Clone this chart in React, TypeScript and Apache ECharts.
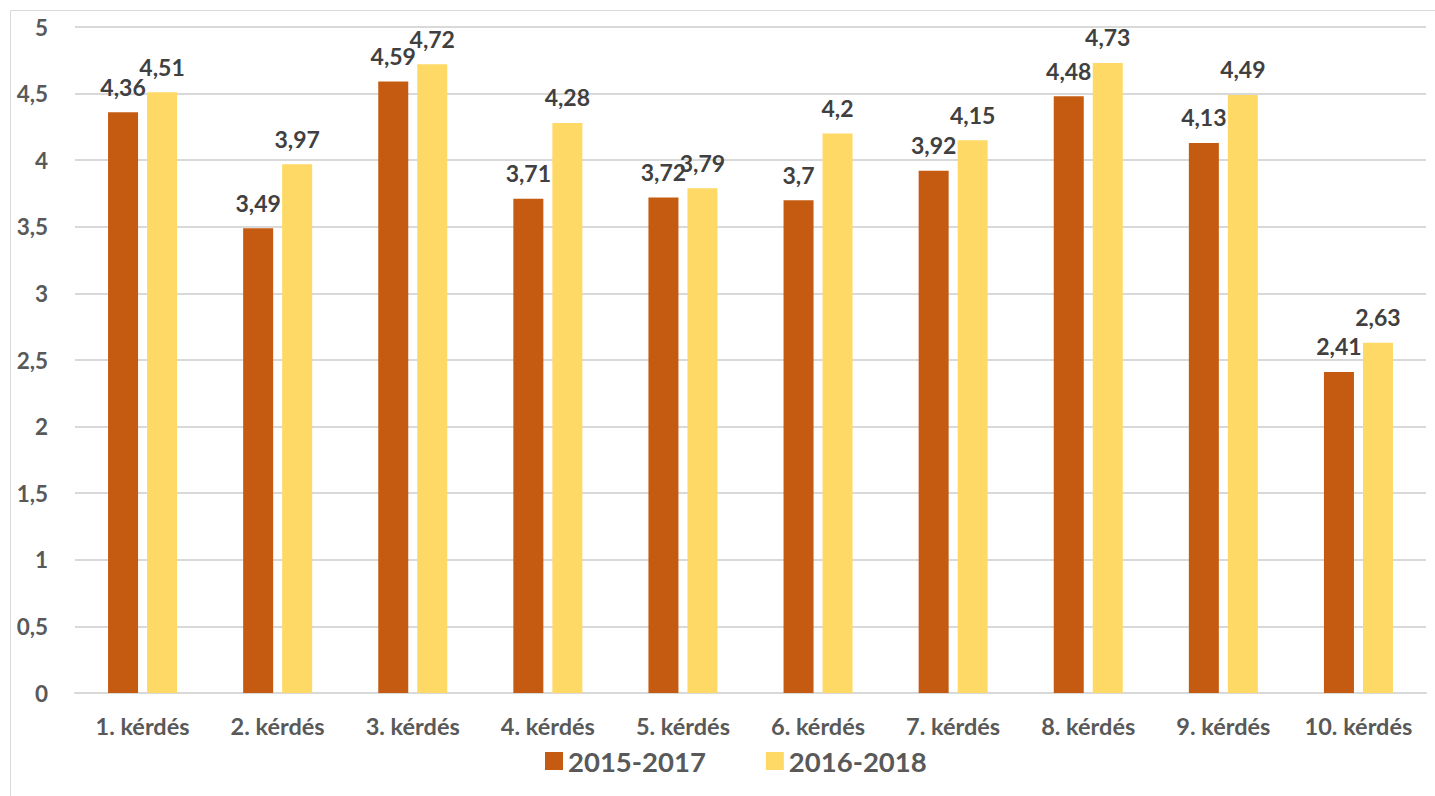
import React, { useEffect, useRef } from "react";
import * as echarts from "echarts";

const categories = ["1. kérdés", "2. kérdés", "3. kérdés", "4. kérdés", "5. kérdés", "6. kérdés", "7. kérdés", "8. kérdés", "9. kérdés", "10. kérdés"];
const series2015 = [4.36, 3.49, 4.59, 3.71, 3.72, 3.7, 3.92, 4.48, 4.13, 2.41];
const series2016 = [4.51, 3.97, 4.72, 4.28, 3.79, 4.2, 4.15, 4.73, 4.49, 2.63];
const seriesNames = ["2015-2017", "2016-2018"];

const FONT = "Lato, 'Open Sans', sans-serif";
const fmt = (v: number) => String(v).replace(".", ",");

export default function App() {
  const ref = useRef<HTMLDivElement>(null);
  useEffect(() => {
    if (!ref.current) return;
    const chart = echarts.init(ref.current, undefined, { renderer: "svg" });
    const label = {
      show: true,
      position: "top" as const,
      distance: 14,
      color: "#404040",
      fontWeight: "bold" as const,
      fontSize: 23,
      fontFamily: FONT,
      formatter: (p: any) => fmt(p.value),
    };
    chart.setOption({
      animation: false,
      backgroundColor: "#ffffff",
      textStyle: { fontFamily: FONT },
      graphic: [
        { type: "line", shape: { x1: 10.5, y1: 10.5, x2: 1435, y2: 10.5 }, style: { stroke: "#d9d9d9", lineWidth: 1 } },
        { type: "line", shape: { x1: 10.5, y1: 10.5, x2: 10.5, y2: 796 }, style: { stroke: "#d9d9d9", lineWidth: 1 } },
      ],
      grid: { left: 75, right: 9, top: 27, bottom: 103, containLabel: false },
      legend: {
        data: seriesNames,
        bottom: 16,
        left: 540,
        itemWidth: 18,
        itemHeight: 18,
        itemGap: 60,
        icon: "rect",
        textStyle: { fontSize: 27.5, fontWeight: "bold", color: "#595959", fontFamily: FONT },
      },
      xAxis: {
        type: "category",
        data: categories,
        axisLine: { lineStyle: { color: "#d9d9d9", width: 2 } },
        axisTick: { show: false },
        axisLabel: { interval: 0, color: "#595959", fontSize: 23.5, fontWeight: "bold", margin: 21, fontFamily: FONT },
      },
      yAxis: {
        type: "value",
        min: 0,
        max: 5,
        interval: 0.5,
        axisLine: { show: false },
        axisTick: { show: false },
        splitLine: { lineStyle: { color: "#d9d9d9", width: 2 } },
        axisLabel: { color: "#595959", fontSize: 22.5, fontWeight: "bold", margin: 27, fontFamily: FONT, formatter: (v: number) => fmt(v) },
      },
      series: [
        { name: seriesNames[0], type: "bar", data: series2015, barWidth: 30, barGap: "30%", itemStyle: { color: "#C55A11" }, label },
        { name: seriesNames[1], type: "bar", data: series2016, barWidth: 30, barGap: "30%", itemStyle: { color: "#FFD966" }, label },
      ],
    });
    return () => chart.dispose();
  }, []);
  return <div ref={ref} style={{ position: "fixed", left: 0, top: 0, width: 1435, height: 796 }} />;
}
